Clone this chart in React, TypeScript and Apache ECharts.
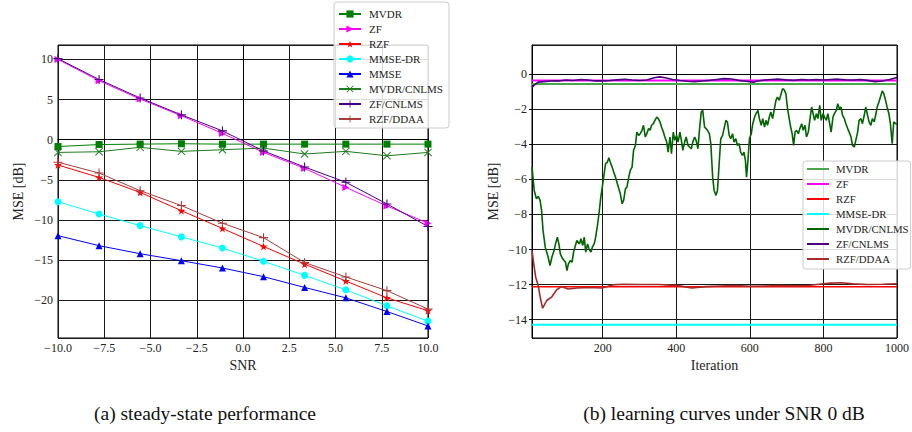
import React, { useEffect, useRef } from 'react';
import * as echarts from 'echarts';

// ---------- (a) steady-state performance ----------
const snr = [-10, -7.78, -5.56, -3.33, -1.11, 1.11, 3.33, 5.56, 7.78, 10];
const mvdr = [-0.85, -0.6, -0.55, -0.5, -0.55, -0.55, -0.55, -0.55, -0.55, -0.55];
const zf = [10.0, 7.35, 5.07, 2.99, 0.79, -1.58, -3.57, -5.94, -8.25, -10.4];
const rzf = [-3.15, -4.7, -6.56, -8.84, -11.05, -13.3, -15.5, -17.6, -19.7, -21.3];
const mmseDr = [-7.72, -9.26, -10.7, -12.1, -13.5, -15.15, -16.9, -18.7, -20.7, -22.6];
const mmse = [-11.95, -13.2, -14.2, -15.07, -15.98, -17.06, -18.4, -19.7, -21.4, -23.2];
const mvdrCnlms = [-1.58, -1.5, -0.95, -1.45, -1.25, -1.04, -1.78, -1.45, -2.0, -1.58];
const zfCnlms = [10.1, 7.5, 5.2, 3.1, 1.1, -1.4, -3.4, -5.3, -8.0, -10.8];
const rzfDdaa = [-2.8, -4.15, -6.35, -8.2, -10.4, -12.2, -15.3, -17.1, -18.8, -21.1];

// ---------- (b) learning curves under SNR 0 dB ----------
const iterRange = [8, 1000];
const mvdrLevel = -0.55;
const zfLevel = -0.36;
const rzfLevel = -12.13;
const mmseDrLevel = -14.3;

const mvdrCnlmsCurve: [number, number][] = [
  [8, -5.3], [14, -6.63], [20, -7.1], [25, -6.97], [30, -7.2], [34, -7.77], [38, -8.91], [44, -9.87],
  [52, -10.44], [57, -10.91], [62, -10.44], [68, -10.06], [72, -9.68], [77, -9.3], [81, -9.68], [85, -10.25],
  [89, -10.44], [95, -10.63], [99, -10.72], [103, -11.2], [107, -10.82], [112, -10.63], [117, -10.72], [121, -10.15],
  [126, -9.77], [130, -9.49], [137, -9.68], [141, -9.39], [146, -9.77], [150, -9.3], [154, -10.15], [159, -9.68],
  [163, -9.96], [168, -10.15], [172, -9.87], [177, -9.68], [181, -9.3], [186, -8.63], [190, -7.96], [195, -7.01],
  [199, -6.44], [204, -5.68], [208, -5.1], [213, -5.01], [217, -4.76], [222, -5.1], [226, -5.3], [230, -5.58],
  [235, -5.87], [240, -6.25], [244, -6.53], [248, -6.82], [253, -7.39], [257, -7.2], [262, -6.53], [266, -6.44],
  [271, -5.87], [275, -5.49], [280, -5.3], [284, -4.34], [289, -4.06], [293, -3.3], [298, -3.49], [302, -3.39],
  [307, -3.2], [311, -2.91], [316, -3.58], [320, -3.39], [325, -3.1], [329, -3.2], [333, -2.91], [338, -2.82],
  [342, -2.63], [347, -2.44], [351, -2.53], [356, -2.72], [360, -3.01], [365, -3.3], [369, -3.58], [374, -3.87],
  [378, -4.44], [383, -3.58], [387, -4.53], [392, -3.3], [396, -3.77], [401, -3.49], [405, -3.87], [410, -3.3],
  [414, -3.77], [418, -4.34], [423, -3.87], [427, -3.58], [432, -4.06], [436, -4.15], [441, -4.25], [445, -3.87],
  [450, -3.58], [454, -3.77], [459, -4.25], [463, -3.2], [468, -2.15], [472, -2.06], [477, -3.01], [481, -3.1],
  [485, -3.2], [490, -3.39], [494, -3.96], [499, -5.87], [503, -6.63], [508, -6.91], [512, -6.63], [517, -5.01],
  [521, -3.68], [526, -3.49], [530, -3.1], [535, -2.63], [539, -2.72], [544, -3.49], [548, -3.68], [553, -3.39],
  [557, -3.87], [562, -3.68], [566, -4.06], [571, -3.96], [575, -4.44], [580, -4.63], [584, -4.44], [588, -4.91],
  [591, -5.87], [595, -4.91], [599, -3.68], [604, -3.39], [608, -2.82], [613, -2.44], [617, -2.25], [622, -2.06],
  [626, -2.53], [631, -2.91], [635, -2.53], [640, -3.01], [644, -2.63], [648, -2.91], [653, -2.44], [657, -2.15],
  [662, -2.53], [666, -2.06], [671, -1.49], [675, -1.3], [680, -1.49], [684, -1.2], [689, -0.82], [693, -0.88],
  [698, -1.1], [702, -1.87], [707, -2.53], [711, -3.01], [715, -3.39], [719, -4.06], [723, -3.3], [727, -3.2],
  [732, -3.39], [736, -3.1], [741, -2.82], [745, -3.2], [750, -2.91], [754, -3.58], [759, -3.3], [763, -2.63],
  [768, -1.87], [772, -2.25], [776, -2.63], [781, -2.25], [785, -2.53], [790, -1.77], [794, -2.63], [799, -2.25],
  [803, -2.44], [808, -2.63], [812, -2.25], [817, -2.82], [821, -3.3], [826, -2.44], [830, -2.25], [835, -2.06],
  [839, -1.68], [843, -1.96], [848, -1.87], [852, -2.34], [857, -2.53], [861, -2.82], [866, -3.1], [870, -3.3],
  [875, -3.58], [879, -4.06], [884, -4.15], [888, -3.77], [893, -3.3], [897, -2.63], [902, -2.53], [906, -2.82],
  [911, -2.34], [915, -1.87], [920, -2.34], [924, -2.72], [929, -2.91], [933, -2.53], [938, -2.72], [942, -2.34],
  [946, -1.87], [951, -1.58], [955, -1.3], [960, -0.95], [964, -1.1], [969, -1.49], [973, -1.87], [978, -2.25],
  [982, -2.82], [987, -3.96], [991, -2.72], [996, -2.82], [1000, -2.82],
];

const zfCnlmsCurve: [number, number][] = [
  [8, -0.75], [15, -0.6], [25, -0.45], [40, -0.42], [60, -0.38], [80, -0.38], [100, -0.33], [120, -0.36],
  [140, -0.3], [160, -0.33], [180, -0.38], [200, -0.38], [220, -0.36], [240, -0.32], [260, -0.28], [280, -0.33],
  [300, -0.36], [320, -0.33], [340, -0.2], [355, -0.15], [370, -0.2], [390, -0.3], [410, -0.36], [430, -0.4],
  [450, -0.42], [470, -0.38], [490, -0.35], [510, -0.3], [530, -0.25], [550, -0.27], [570, -0.35], [590, -0.4],
  [610, -0.45], [620, -0.38], [640, -0.33], [660, -0.3], [680, -0.28], [700, -0.32], [720, -0.35], [740, -0.3],
  [760, -0.33], [780, -0.3], [800, -0.33], [820, -0.3], [840, -0.28], [860, -0.32], [880, -0.33], [900, -0.3],
  [920, -0.35], [940, -0.42], [960, -0.38], [980, -0.3], [1000, -0.18],
];

const rzfDdaaCurve: [number, number][] = [
  [8, -10.06], [14, -11.0], [18, -11.58], [25, -12.06], [31, -12.8], [37, -13.35], [48, -12.91], [61, -12.72],
  [75, -12.3], [88, -12.11], [106, -12.25], [131, -12.2], [162, -12.17], [198, -12.2], [227, -12.02], [254, -11.98],
  [298, -12.0], [352, -12.0], [406, -12.06], [442, -12.2], [480, -12.12], [520, -12.08], [560, -12.06], [600, -12.1],
  [640, -12.08], [680, -12.05], [720, -12.07], [760, -12.05], [800, -11.95], [820, -11.92], [850, -11.9], [880, -11.96],
  [920, -12.0], [960, -11.98], [1000, -11.95],
];

const leftNames = ['MVDR', 'ZF', 'RZF', 'MMSE-DR', 'MMSE', 'MVDR/CNLMS', 'ZF/CNLMS', 'RZF/DDAA'];
const rightNames = ['MVDR', 'ZF', 'RZF', 'MMSE-DR', 'MVDR/CNLMS', 'ZF/CNLMS', 'RZF/DDAA'];

const SERIF = 'Liberation Serif';
const PLUS = 'path://M4.4,0H5.6V10H4.4Z M0,4.4H10V5.6H0Z';
const CROSS = 'path://M0.85,0L5,4.15L9.15,0L10,0.85L5.85,5L10,9.15L9.15,10L5,5.85L0.85,10L0,9.15L4.15,5L0,0.85Z';
const STAR = 'path://M5,0L6.123,3.455L9.755,3.455L6.816,5.59L7.939,9.045L5,6.91L2.061,9.045L3.184,5.59L0.245,3.455L3.877,3.455Z';

const minus = (s: string) => s.replace('-', '\u2212');

export default function App() {
  const ref = useRef<HTMLDivElement>(null);

  useEffect(() => {
    if (!ref.current) return;
    const chart = echarts.init(ref.current, undefined, { renderer: 'svg' });

    const labelStyle = { fontFamily: SERIF, fontSize: 12, color: '#222' };
    const nameStyle = { fontFamily: SERIF, fontSize: 14, color: '#222' };
    const split = { show: true, lineStyle: { color: '#1a1a1a', width: 1 } };
    const axLine = { show: true, lineStyle: { color: '#000', width: 1 } };
    const tick = { show: true, inside: false, length: 3, lineStyle: { color: '#000' } };

    const leftSeries = (name: string, data: number[], color: string, symbol: string, size: number, rotate = 0) => ({
      name,
      type: 'line',
      xAxisIndex: 0,
      yAxisIndex: 0,
      data: snr.map((x, i) => [x, data[i]]),
      symbol,
      symbolSize: size,
      symbolRotate: rotate,
      showAllSymbol: true,
      lineStyle: { color, width: 1 },
      itemStyle: { color, borderWidth: 0 },
      emphasis: { disabled: true },
    });

    const rightSeries = (name: string, data: [number, number][], color: string, width: number, opacity = 1) => ({
      name,
      type: 'line',
      xAxisIndex: 1,
      yAxisIndex: 1,
      data,
      symbol: 'none',
      lineStyle: { color, width, opacity },
      itemStyle: { color },
      emphasis: { disabled: true },
    });
    const flat = (v: number): [number, number][] => [[iterRange[0], v], [iterRange[1], v]];

    const rightColors = ['#4aa64a', '#ff00ff', '#ff0000', '#00ffff', '#006400', '#4b0082', '#a52a2a'];

    const legendBase = {
      orient: 'vertical',
      selectedMode: false,
      itemWidth: 22,
      itemGap: 3,
      backgroundColor: 'rgba(255,255,255,0.85)',
      borderColor: '#cccccc',
      borderWidth: 1,
      borderRadius: 3,
      textStyle: { fontFamily: SERIF, fontSize: 11, color: '#222', lineHeight: 12, padding: [0, 0, 0, 3] },
    };

    chart.setOption({
      animation: false,
      backgroundColor: '#fff',
      textStyle: { fontFamily: SERIF },
      grid: [
        { left: 58, top: 45, width: 370, height: 293, show: true, borderColor: '#000', borderWidth: 1, backgroundColor: 'transparent' },
        { left: 532, top: 45, width: 369, height: 293, show: true, borderColor: '#000', borderWidth: 1, backgroundColor: 'transparent' },
      ],
      xAxis: [
        {
          gridIndex: 0, type: 'value', min: -10, max: 10, interval: 2.5,
          name: 'SNR', nameLocation: 'middle', nameGap: 15, nameTextStyle: nameStyle,
          axisLine: axLine, axisTick: tick, splitLine: split,
          axisLabel: { ...labelStyle, margin: 4, formatter: (v: number) => minus(v.toFixed(1)) },
        },
        {
          gridIndex: 1, type: 'value', min: iterRange[0], max: iterRange[1], splitNumber: 5,
          name: 'Iteration', nameLocation: 'middle', nameGap: 16, nameTextStyle: nameStyle,
          axisLine: axLine, axisTick: tick, splitLine: split,
          axisLabel: { ...labelStyle, margin: 4, showMinLabel: false, formatter: (v: number) => String(v) },
        },
      ],
      yAxis: [
        {
          gridIndex: 0, type: 'value', min: -24.7, max: 11.8, splitNumber: 7,
          name: 'MSE [dB]', nameLocation: 'middle', nameGap: 33, nameTextStyle: nameStyle,
          axisLine: axLine, axisTick: tick, splitLine: split,
          axisLabel: { ...labelStyle, margin: 5, showMinLabel: false, showMaxLabel: false, formatter: (v: number) => minus(String(v)) },
        },
        {
          gridIndex: 1, type: 'value', min: -15.05, max: 1.67, splitNumber: 8,
          name: 'MSE [dB]', nameLocation: 'middle', nameGap: 32, nameTextStyle: nameStyle,
          axisLine: axLine, axisTick: tick, splitLine: split,
          axisLabel: { ...labelStyle, margin: 5, showMinLabel: false, showMaxLabel: false, formatter: (v: number) => minus(String(v)) },
        },
      ],
      legend: [
        { ...legendBase, left: 334, top: 2, itemHeight: 9, padding: [6, 6, 3, 4], data: leftNames },
        {
          ...legendBase, left: 803, top: 161, itemHeight: 2, padding: [2, 2, 4, 4],
          textStyle: { ...legendBase.textStyle, fontSize: 10.8, padding: [0, 0, 0, 2] },
          data: rightNames.map((n, i) => ({ name: n, icon: 'rect', itemStyle: { color: rightColors[i] } })),
        },
      ],
      series: [
        leftSeries('MVDR', mvdr, '#008000', 'rect', 7),
        leftSeries('ZF', zf, '#ff00ff', 'triangle', 7, -90),
        leftSeries('RZF', rzf, '#ff0000', STAR, 8),
        leftSeries('MMSE-DR', mmseDr, '#00ffff', 'circle', 7),
        leftSeries('MMSE', mmse, '#0000ff', 'triangle', 7),
        leftSeries('MVDR/CNLMS', mvdrCnlms, '#1e7b1e', CROSS, 8),
        leftSeries('ZF/CNLMS', zfCnlms, '#4b0082', PLUS, 9),
        leftSeries('RZF/DDAA', rzfDdaa, '#a83c3c', PLUS, 9),
        rightSeries('MVDR', flat(mvdrLevel), rightColors[0], 2),
        rightSeries('ZF', flat(zfLevel), rightColors[1], 2),
        rightSeries('RZF', flat(rzfLevel), rightColors[2], 1.5),
        rightSeries('MMSE-DR', flat(mmseDrLevel), rightColors[3], 2),
        rightSeries('MVDR/CNLMS', mvdrCnlmsCurve, rightColors[4], 1.6),
        rightSeries('ZF/CNLMS', zfCnlmsCurve, rightColors[5], 1.6),
        rightSeries('RZF/DDAA', rzfDdaaCurve, rightColors[6], 1.6),
      ],
      graphic: [
        { type: 'text', x: 205, y: 413, style: { text: '(a) steady-state performance', fontFamily: SERIF, fontSize: 19.5, fill: '#111', align: 'center', verticalAlign: 'middle' } },
        { type: 'text', x: 724, y: 413, style: { text: '(b) learning curves under SNR 0 dB', fontFamily: SERIF, fontSize: 19.5, fill: '#111', align: 'center', verticalAlign: 'middle' } },
      ],
    } as any);

    return () => chart.dispose();
  }, []);

  return (
    <div
      ref={ref}
      style={{ position: 'absolute', left: 0, top: 0, width: 912, height: 432, background: '#fff' }}
    />
  );
}
